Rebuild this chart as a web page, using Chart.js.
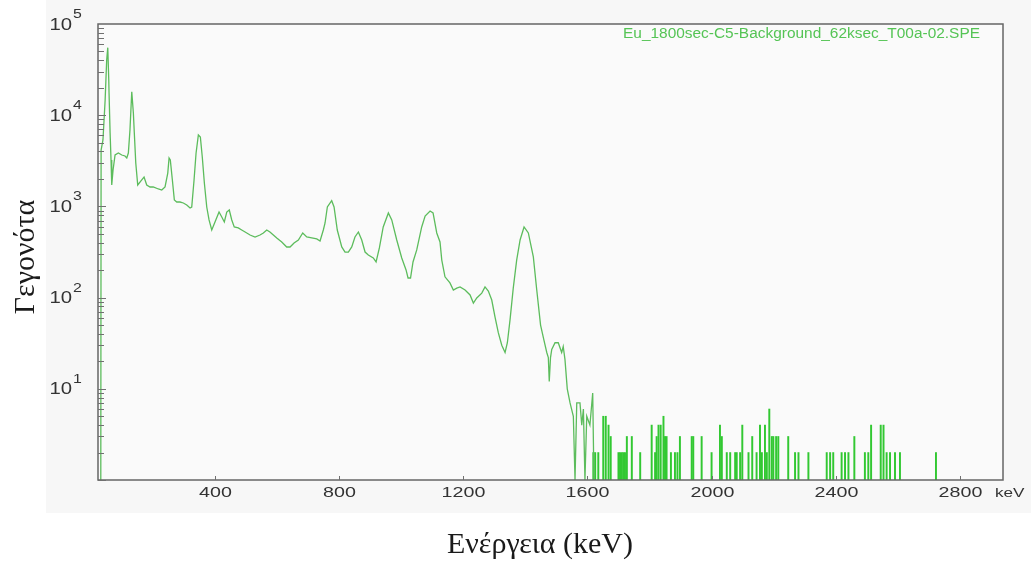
<!DOCTYPE html>
<html>
<head>
<meta charset="utf-8">
<script src="https://cdn.jsdelivr.net/npm/chart.js@4.4.0/dist/chart.umd.min.js"></script>
<style>
  html, body { margin: 0; padding: 0; background: #fff; }
</style>
</head>
<body>
<canvas id="spectrum" width="1031" height="561"></canvas>
<script>
// continuous part of the spectrum (keV, counts)
const energy = [
  32, 33, 39, 46, 51, 54.5, 57.7, 58.6, 62, 65, 67.3, 71.5, 78, 88.6, 99.6, 110, 115.7, 120.8, 126, 131.8,
  137, 140, 144.7, 151, 164, 171.4, 180, 190.7, 201, 217.5, 228.4, 239, 247.8, 252, 256, 262.6, 269, 276.8, 287.4, 298,
  309, 319.6, 325, 332.5, 339, 346.4, 352.8, 359, 365.7, 373.4, 380.8, 389.5, 400, 413, 421.8, 430, 437.9, 446, 454, 462,
  475, 486, 497, 513, 529, 545, 555.8, 566.7, 577, 588, 599, 615, 631, 641.8, 654.7, 668.6, 682.7, 695.6, 711.7, 727.8,
  738.5, 749, 754.6, 762, 776, 783.6, 794, 808.4, 819, 829.7, 840.6, 851, 862, 872.8, 883.5, 894, 910, 919, 929.6, 942,
  958.6, 969.5, 985.6, 1001.7, 1015.6, 1022, 1030, 1038, 1050, 1066, 1077, 1093, 1102.6, 1114.5, 1125, 1130.7, 1141, 1157, 1168, 1179,
  1189.6, 1205.7, 1221.8, 1232.5, 1243.4, 1259.5, 1270, 1280.7, 1291.7, 1302.3, 1313, 1324, 1334.6, 1342, 1350.6, 1361, 1372, 1383, 1395.8, 1409.6,
  1425.7, 1436.7, 1449, 1460, 1469, 1474, 1477, 1481, 1485, 1495.6, 1506, 1517, 1522, 1527.6, 1535, 1544, 1554.6, 1560, 1565.6, 1576,
  1581.7, 1587, 1592, 1597.8, 1608, 1617, 1621
];
const counts = [
  1, 4150, 5350, 14700, 40300, 55000, 24300, 17500, 6380, 3230, 1716, 2510, 3660, 3850, 3660, 3570, 3400, 3850, 6880, 18100,
  10500, 6380, 2990, 1716, 1950, 2100, 1716, 1632, 1632, 1552, 1513, 1632, 2320, 3400, 3230, 1950, 1175, 1117, 1117, 1090,
  1036, 960, 985, 1950, 3850, 6070, 5770, 3480, 1805, 985, 710, 551, 675, 868, 765, 675, 868, 913, 710, 595,
  580, 551, 524, 486, 462, 486, 511, 551, 524, 486, 451, 407, 359, 359, 397, 428, 511, 462, 451, 440,
  418, 551, 658, 985, 1155, 985, 551, 359, 316, 316, 359, 462, 524, 428, 316, 293, 272, 246, 350, 595,
  847, 710, 428, 272, 201, 164, 164, 246, 333, 595, 785, 890, 847, 511, 407, 258, 169, 145, 121, 127,
  131, 121, 107, 87, 99, 112, 131, 118, 94, 61, 41, 30, 25, 32, 57, 127, 258, 428, 595, 511,
  279, 121, 50, 34, 25, 22, 12, 22, 27, 32, 32, 25, 29, 21, 10, 7, 5, 1, 7, 7,
  4, 6, 1, 5, 4, 9, 1
];
// isolated channels in the high-energy tail (keV, counts)
const tailEnergy = [
  1619, 1625, 1635, 1651, 1659, 1668, 1675, 1700, 1705, 1711, 1716, 1721, 1727, 1743, 1770, 1807, 1818, 1823, 1829, 1836,
  1845, 1850, 1855, 1869, 1882, 1890, 1898, 1936, 1941, 1968, 2000, 2027, 2033, 2049, 2060, 2076, 2081, 2092, 2099, 2119,
  2131, 2145, 2156, 2162, 2172, 2178, 2186, 2194, 2199, 2208, 2215, 2247, 2269, 2280, 2312, 2371, 2382, 2392, 2419, 2430,
  2441, 2460, 2494, 2505, 2514, 2545, 2554, 2564, 2575, 2591, 2607, 2723
];
const tailCounts = [
  2, 2, 2, 5, 5, 4, 3, 2, 2, 2, 2, 2, 3, 3, 2, 4, 2, 3, 4, 4,
  5, 3, 3, 2, 2, 2, 3, 3, 3, 3, 2, 4, 3, 2, 2, 2, 2, 2, 4, 2,
  3, 2, 4, 2, 4, 2, 6, 3, 3, 3, 3, 3, 2, 2, 2, 2, 2, 2, 2, 2,
  2, 3, 2, 2, 4, 4, 4, 2, 2, 2, 2, 2
];
const xTicks = [400, 800, 1200, 1600, 2000, 2400, 2800];
const yExponents = [1, 2, 3, 4, 5];
const fileName = "Eu_1800sec-C5-Background_62ksec_T00a-02.SPE";
const xTitle = "Ενέργεια (keV)";
const yTitle = "Γεγονότα";
const xUnit = "keV";

const SANS = "'Liberation Sans', Arial, sans-serif";
const SERIF = "'Liberation Serif', 'Times New Roman', serif";
const STRETCH = 1.27; // the screenshot in the reference is wider than tall

function wideText(ctx, txt, x, y, sx, align) {
  ctx.save();
  ctx.translate(x, y);
  ctx.scale(sx, 1);
  ctx.textAlign = align;
  ctx.fillText(txt, 0, 0);
  ctx.restore();
}

const panelPlugin = {
  id: "panel",
  beforeDraw(chart) {
    const ctx = chart.ctx, a = chart.chartArea;
    ctx.save();
    ctx.fillStyle = "#ffffff";
    ctx.fillRect(0, 0, chart.width, chart.height);
    ctx.fillStyle = "#f7f7f7";
    ctx.fillRect(46, 0, chart.width - 46, 513);
    ctx.fillStyle = "#fafafa";
    ctx.fillRect(a.left, a.top, a.right - a.left, a.bottom - a.top);
    ctx.restore();
  },
  afterDraw(chart) {
    const ctx = chart.ctx, a = chart.chartArea;
    const xs = chart.scales.x, ys = chart.scales.y;
    ctx.save();

    // frame
    ctx.strokeStyle = "#666666";
    ctx.lineWidth = 1.5;
    ctx.strokeRect(a.left, a.top, a.right - a.left, a.bottom - a.top);

    // log ticks on the inside of the left axis
    ctx.lineWidth = 1;
    ctx.strokeStyle = "#707070";
    for (let e = 0; e < 5; e++) {
      for (let m = 1; m <= 9; m++) {
        const v = m * Math.pow(10, e);
        const y = Math.round(ys.getPixelForValue(v)) + 0.5;
        const len = m === 1 ? 8 : 6;
        ctx.beginPath();
        ctx.moveTo(a.left, y);
        ctx.lineTo(a.left + len, y);
        ctx.stroke();
      }
    }

    // y labels 10^n
    ctx.fillStyle = "#333333";
    ctx.textBaseline = "alphabetic";
    yExponents.forEach(function (n) {
      const y = ys.getPixelForValue(Math.pow(10, n));
      ctx.font = "16px " + SANS;
      wideText(ctx, "10", 72, y + 5.5, STRETCH, "right");
      ctx.font = "12.5px " + SANS;
      wideText(ctx, String(n), 73, y - 6, STRETCH, "left");
    });

    // x ticks and labels
    ctx.strokeStyle = "#707070";
    ctx.font = "15.5px " + SANS;
    xTicks.forEach(function (v) {
      const x = Math.round(xs.getPixelForValue(v)) + 0.5;
      ctx.beginPath();
      ctx.moveTo(x, a.bottom);
      ctx.lineTo(x, a.bottom - 4);
      ctx.stroke();
      wideText(ctx, String(v), x, 497, STRETCH, "center");
    });
    ctx.font = "13.5px " + SANS;
    wideText(ctx, xUnit, 995, 497, STRETCH, "left");

    // file name
    ctx.fillStyle = "#55c455";
    ctx.font = "14px " + SANS;
    const w = ctx.measureText(fileName).width;
    wideText(ctx, fileName, 980, 38, 357 / w, "right");

    // axis titles
    ctx.fillStyle = "#1a1a1a";
    ctx.font = "30px " + SERIF;
    ctx.textAlign = "center";
    ctx.textBaseline = "middle";
    ctx.fillText(xTitle, 540, 545);
    ctx.save();
    ctx.translate(26, 257);
    ctx.rotate(-Math.PI / 2);
    ctx.fillText(yTitle, 0, 0);
    ctx.restore();

    ctx.restore();
  }
};

new Chart(document.getElementById("spectrum"), {
  type: "line",
  data: {
    datasets: [
      {
        type: "line",
        data: energy.map(function (e, i) { return { x: e, y: counts[i] }; }),
        borderColor: "rgb(92, 188, 92)",
        borderWidth: 1.3,
        pointRadius: 0,
        tension: 0,
        fill: false
      },
      {
        type: "bar",
        data: tailEnergy.map(function (e, i) { return { x: e, y: tailCounts[i] }; }),
        backgroundColor: "rgb(50, 200, 50)",
        barThickness: 1.3,
        borderWidth: 0
      }
    ]
  },
  options: {
    responsive: false,
    animation: false,
    devicePixelRatio: 1,
    layout: { padding: { left: 98, right: 28, top: 24, bottom: 81 } },
    plugins: { legend: { display: false }, tooltip: { enabled: false } },
    scales: {
      x: { type: "linear", min: 23, max: 2939, offset: false, display: false },
      y: { type: "logarithmic", min: 1, max: 100000, display: false }
    }
  },
  plugins: [panelPlugin]
});
</script>
</body>
</html>
